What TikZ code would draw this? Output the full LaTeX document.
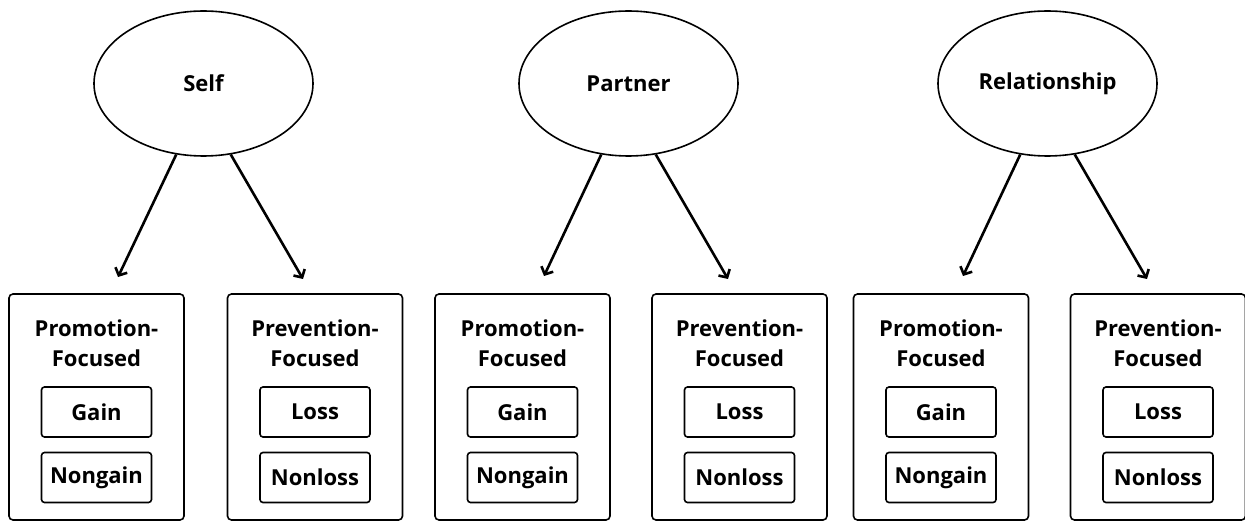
\documentclass[tikz,border=0pt]{standalone}
\usepackage{fontspec}
\setmainfont{Open Sans}
\usetikzlibrary{arrows.meta,shapes.geometric}
\begin{document}
\begin{tikzpicture}[x=1pt,y=-1pt,
  every node/.style={font=\fontsize{22}{30}\selectfont\bfseries},
  topic/.style={ellipse,draw,line width=1.6pt,minimum width=219pt,minimum height=145pt,inner sep=0pt},
  focusbox/.style={draw,line width=1.6pt,rounded corners=4pt,minimum width=175pt,minimum height=226pt,inner sep=0pt},
  itembox/.style={draw,line width=1.6pt,rounded corners=3pt,minimum width=110pt,minimum height=50pt,inner sep=0pt},
  head/.style={align=center,inner sep=0pt},
  link/.style={line width=2.6pt,-{Straight Barb[length=6pt,width=13pt,line width=2.6pt]}}]
\useasboundingbox (0,0) rectangle (1245,521);

% three targets of regulatory focus
\node[topic] (self) at (203.5,83.5) {Self};
\node[topic] (partner) at (628.5,83.5) {Partner};
\node[topic] (rel) at (1047.5,83.5) {Relationship};

% one promotion box and one prevention box per target
\foreach \n/\cx in {s1/96.5,s2/315,p1/522.5,p2/739.5,r1/941,r2/1158}{
  \node[focusbox] (\n) at (\cx,407) {};
}
\foreach \n/\cx in {s1/96.5,p1/522.5,r1/941}{
  \node[head] (\n h) at (\cx,343) {Promotion-\\Focused};
  \node[itembox] (\n a) at (\cx,412) {Gain};
  \node[itembox] (\n b) at (\cx,477.5) {Nongain};
}
\foreach \n/\cx in {s2/315,p2/739.5,r2/1158}{
  \node[head] (\n h) at (\cx,343) {Prevention-\\Focused};
  \node[itembox] (\n a) at (\cx,412) {Loss};
  \node[itembox] (\n b) at (\cx,477.5) {Nonloss};
}

% arrows from each target to its two focus boxes
\coordinate (s1t) at (118,277);
\coordinate (s2t) at (303,279);
\coordinate (p1t) at (544,276);
\coordinate (p2t) at (728,279);
\coordinate (r1t) at (963,276);
\coordinate (r2t) at (1147,279);
\draw[link] (self.-111) -- (s1t);
\draw[link] (self.-69) -- (s2t);
\draw[link] (partner.-111) -- (p1t);
\draw[link] (partner.-69) -- (p2t);
\draw[link] (rel.-111) -- (r1t);
\draw[link] (rel.-69) -- (r2t);
\end{tikzpicture}
\end{document}
